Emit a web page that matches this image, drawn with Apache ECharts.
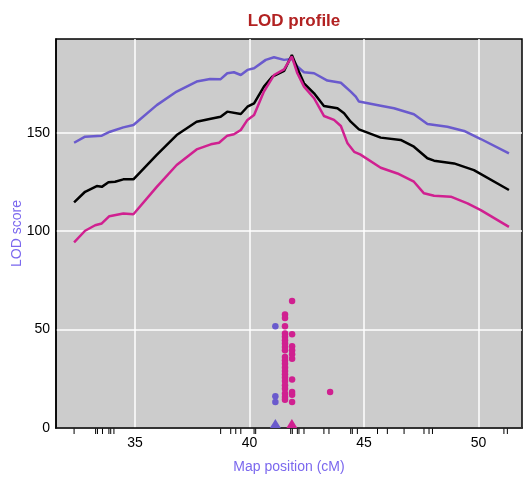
<!DOCTYPE html>
<html>
<head>
<meta charset="utf-8">
<script src="https://cdn.jsdelivr.net/npm/echarts@6/dist/echarts.min.js"></script>
<style>
  html, body { margin: 0; padding: 0; background: #ffffff; }
  #chart { width: 525px; height: 480px; }
</style>
</head>
<body>
<div id="chart"></div>
<script>
// LOD profile along the chromosome: three LOD curves, marker rug and peak markers.

// Curve 1 (slate blue): position (cM), LOD
const bluePos = [32.34, 32.82, 33.55, 33.91, 34.49, 34.93, 35.95, 36.82, 37.69, 38.28, 38.74, 39.03, 39.32, 39.62, 39.91, 40.20, 40.71, 41.07, 41.51, 41.85, 42.09, 42.38, 42.82, 43.40, 43.99, 44.42, 44.64, 44.78, 45.73, 46.31, 47.18, 47.77, 48.64, 49.37, 50.10, 51.33];
const blueLod = [144.9, 148.0, 148.5, 150.5, 152.7, 153.9, 164.0, 170.9, 176.0, 177.3, 177.2, 180.2, 180.7, 179.3, 181.9, 182.7, 187.0, 188.3, 187.0, 187.5, 183.6, 180.7, 180.2, 176.5, 175.4, 170.9, 168.3, 165.8, 163.7, 162.4, 159.4, 154.4, 153.0, 150.9, 146.8, 139.5];

// Curve 2 (black)
const blackPos = [32.34, 32.82, 33.33, 33.55, 33.84, 34.13, 34.49, 34.93, 35.95, 36.82, 37.69, 38.31, 38.74, 39.03, 39.62, 39.91, 40.20, 40.63, 41.00, 41.51, 41.85, 42.09, 42.38, 42.82, 43.25, 43.84, 44.13, 44.42, 44.78, 45.73, 46.60, 47.18, 47.77, 48.06, 48.93, 49.80, 51.33];
const blackLod = [114.6, 120.0, 122.9, 122.5, 124.8, 125.1, 126.3, 126.3, 138.7, 148.8, 155.6, 157.1, 158.1, 160.7, 159.5, 163.2, 164.9, 173.4, 178.5, 181.4, 189.5, 182.8, 175.1, 170.0, 163.6, 162.4, 159.9, 155.6, 151.7, 147.5, 146.3, 142.9, 137.0, 135.8, 134.4, 131.0, 120.9];

// Curve 3 (violet red)
const pinkPos = [32.34, 32.82, 33.26, 33.55, 33.88, 34.49, 34.93, 35.95, 36.82, 37.69, 38.31, 38.67, 39.03, 39.32, 39.62, 39.91, 40.20, 40.63, 41.07, 41.51, 41.85, 42.09, 42.38, 42.82, 43.25, 43.69, 43.99, 44.28, 44.57, 44.83, 45.73, 46.46, 47.18, 47.62, 48.06, 48.79, 49.52, 50.10, 51.33];
const pinkLod = [94.3, 100.2, 103.0, 103.9, 107.6, 109.0, 108.6, 122.5, 133.6, 141.5, 144.1, 144.9, 148.5, 149.2, 151.4, 156.5, 159.0, 170.9, 179.3, 182.2, 188.7, 180.2, 173.4, 167.5, 158.5, 156.5, 153.4, 144.6, 140.3, 139.0, 132.2, 129.3, 125.1, 119.2, 118.0, 117.5, 114.1, 110.7, 102.2];

// Individual peak estimates
const bluePeakPos = [41.13, 41.13, 41.13];
const bluePeakLod = [51.7, 16.1, 13.2];
const pinkPeakPos = [
  41.55, 41.55, 41.55, 41.55, 41.55, 41.55, 41.55, 41.55, 41.55, 41.55, 41.55,
  41.55, 41.55, 41.55, 41.55, 41.55, 41.55, 41.55, 41.55, 41.55, 41.55, 41.55,
  41.86, 41.86, 41.86, 41.86, 41.86, 41.86, 41.86, 41.86, 41.86, 41.86,
  43.52
];
const pinkPeakLod = [
  57.6, 55.9, 51.7, 48.0, 46.3, 44.6, 42.9, 41.2, 39.5, 36.1, 34.4,
  32.7, 30.7, 28.9, 27.3, 25.6, 23.9, 21.7, 20.0, 17.5, 15.8, 14.4,
  64.5, 47.6, 41.5, 39.5, 37.4, 35.2, 24.6, 18.3, 16.9, 13.2,
  18.3
];

// Overall peak locations (triangles on the axis)
const peakMarkPos = [41.13, 41.85];
const peakMarkLod = [2.3, 2.3];

// Marker positions (rug under the axis)
const markerPos = [32.34, 33.28, 33.36, 33.58, 33.86, 33.94, 34.08, 38.74, 39.18, 39.40, 39.62, 40.20, 40.27, 41.80, 41.87, 42.09, 42.16, 42.38, 43.25, 43.47, 44.42, 44.49, 44.71, 45.59, 46.02, 46.75, 47.62, 47.84, 47.99, 51.11, 51.26];

// Axis ticks
const xTicks = [35, 40, 45, 50];
const yTicks = [0, 50, 100, 150];

const BLUE = '#6A5ACD';
const PINK = '#D02090';
const LABEL = '#7B68EE';
const FONT = 'Liberation Sans, Arial, Helvetica, sans-serif';

const zip = (a, b) => a.map((v, i) => [v, b[i]]);

const chart = echarts.init(document.getElementById('chart'), null, { renderer: 'canvas' });

chart.setOption({
  animation: false,
  backgroundColor: '#ffffff',
  title: {
    text: 'LOD profile',
    left: 289,
    top: 8,
    textAlign: 'center',
    textStyle: { color: '#B22222', fontSize: 17, fontWeight: 'bold', fontFamily: FONT }
  },
  grid: {
    left: 56, right: 3, top: 39, bottom: 52,
    outerBoundsMode: 'none',
    containLabel: false,
    show: true,
    backgroundColor: '#CCCCCC',
    borderColor: '#000000',
    borderWidth: 1.5
  },
  xAxis: {
    type: 'value',
    min: 31.55,
    max: 51.9,
    name: 'Map position (cM)',
    nameLocation: 'middle',
    nameGap: 32,
    nameMoveOverlap: false,
    nameTextStyle: { color: LABEL, fontSize: 14, fontFamily: FONT },
    axisLine: { show: true, onZero: false, lineStyle: { color: '#000', width: 1.5 } },
    axisTick: { show: false, customValues: xTicks },
    axisLabel: { customValues: xTicks, color: '#000', fontSize: 14, fontFamily: FONT, margin: 8 },
    splitLine: { show: true, lineStyle: { color: '#ffffff', width: 1.5 } }
  },
  yAxis: {
    type: 'value',
    min: 0,
    max: 197.6,
    name: 'LOD score',
    nameLocation: 'middle',
    nameGap: 32,
    nameMoveOverlap: false,
    nameTextStyle: { color: LABEL, fontSize: 14, fontFamily: FONT },
    axisLine: { show: true, lineStyle: { color: '#000', width: 1.5 } },
    axisTick: { show: false, customValues: yTicks },
    axisLabel: { customValues: yTicks, color: '#000', fontSize: 14, fontFamily: FONT, margin: 6 },
    splitLine: { show: true, lineStyle: { color: '#ffffff', width: 1.5 } }
  },
  series: [
    {
      type: 'line', data: zip(bluePos, blueLod), symbol: 'none', z: 3,
      lineStyle: { color: BLUE, width: 2.5 }
    },
    {
      type: 'line', data: zip(blackPos, blackLod), symbol: 'none', z: 4,
      lineStyle: { color: '#000000', width: 2.5 }
    },
    {
      type: 'line', data: zip(pinkPos, pinkLod), symbol: 'none', z: 5,
      lineStyle: { color: PINK, width: 2.5 }
    },
    {
      type: 'scatter', data: zip(bluePeakPos, bluePeakLod), symbol: 'circle', symbolSize: 6.5, z: 6,
      itemStyle: { color: BLUE, opacity: 1 }
    },
    {
      type: 'scatter', data: zip(pinkPeakPos, pinkPeakLod), symbol: 'circle', symbolSize: 6.5, z: 7,
      itemStyle: { color: PINK, opacity: 1 }
    },
    {
      type: 'scatter', data: [[peakMarkPos[0], peakMarkLod[0]]], symbol: 'triangle', symbolSize: [11, 9], z: 8,
      itemStyle: { color: BLUE, opacity: 1 }
    },
    {
      type: 'scatter', data: [[peakMarkPos[1], peakMarkLod[1]]], symbol: 'triangle', symbolSize: [11, 9], z: 8,
      itemStyle: { color: PINK, opacity: 1 }
    },
    {
      // marker rug: short ticks hanging below the x axis
      type: 'custom',
      data: markerPos.map(p => [p, 0]),
      clip: false,
      z: 9,
      renderItem: function (params, api) {
        const pt = api.coord([api.value(0), 0]);
        return {
          type: 'line',
          shape: { x1: pt[0], y1: pt[1] + 0.5, x2: pt[0], y2: pt[1] + 6 },
          style: { stroke: '#000', lineWidth: 1 }
        };
      }
    }
  ]
});
</script>
</body>
</html>
